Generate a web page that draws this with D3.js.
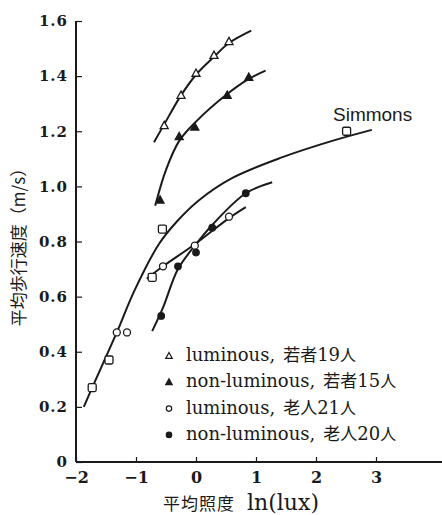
<!DOCTYPE html>
<html>
<head>
<meta charset="utf-8">
<script src="https://cdn.jsdelivr.net/npm/d3@7"></script>
<style>
  html, body { margin: 0; padding: 0; background: #fff; }
  svg { display: block; }
</style>
</head>
<body>
<svg id="chart" width="442" height="515"></svg>
<script>
// Walking speed vs. mean illuminance
const xTicks = [-2, -1, 0, 1, 2, 3];
const yTicks = [0, 0.2, 0.4, 0.6, 0.8, 1.0, 1.2, 1.4, 1.6];
const yTickLabels = ["0", "0.2", "0.4", "0.6", "0.8", "1.0", "1.2", "1.4", "1.6"];

// measured points [ln(lux), m/s]
const youngLum    = [[-0.53, 1.22], [-0.25, 1.33], [0.0, 1.41], [0.3, 1.475], [0.55, 1.525]];
const youngNonLum = [[-0.6, 0.95], [-0.28, 1.18], [-0.02, 1.215], [0.52, 1.33], [0.88, 1.395]];
const oldLum      = [[-1.32, 0.47], [-1.15, 0.47], [-0.55, 0.71], [-0.02, 0.785], [0.55, 0.89]];
const oldNonLum   = [[-0.58, 0.53], [-0.3, 0.71], [0.0, 0.76], [0.27, 0.85], [0.83, 0.975]];
const simmons     = [[-1.73, 0.27], [-1.45, 0.37], [-0.73, 0.67], [-0.56, 0.845], [2.51, 1.2]];

// fitted curves [ln(lux), m/s]
const youngLumFit    = [[-0.7, 1.16], [-0.53, 1.225], [-0.25, 1.33], [0.0, 1.405], [0.3, 1.47], [0.55, 1.52], [0.92, 1.565]];
const youngNonLumFit = [[-0.68, 0.93], [-0.5, 1.06], [-0.28, 1.165], [0.0, 1.235], [0.52, 1.335], [0.88, 1.39], [1.16, 1.42]];
const oldLumFit      = [[-0.82, 0.665], [-0.55, 0.71], [-0.02, 0.79], [0.55, 0.885], [0.83, 0.925]];
const oldNonLumFit   = [[-0.73, 0.475], [-0.55, 0.56], [-0.3, 0.7], [0.0, 0.79], [0.27, 0.86], [0.83, 0.975], [1.27, 1.015]];
const simmonsFit     = [[-1.87, 0.2], [-1.73, 0.27], [-1.32, 0.47], [-1.03, 0.62], [-0.62, 0.79], [-0.33, 0.87],
                        [0.05, 0.95], [0.6, 1.03], [1.43, 1.105], [2.27, 1.165], [2.93, 1.205]];

const legendItems = [
  { shape: "triUp", fill: false, text: "luminous,", group: "若者", count: "19" },
  { shape: "triUp", fill: true,  text: "non-luminous,", group: "若者", count: "15" },
  { shape: "circle", fill: false, text: "luminous,", group: "老人", count: "21" },
  { shape: "circle", fill: true,  text: "non-luminous,", group: "老人", count: "20" }
];

const svg = d3.select("#chart");
const ink = "#1a1a1a";
const serif = "'DejaVu Serif', 'Liberation Serif', serif";
const cjkFont = "'Noto Sans CJK JP', sans-serif";

const x = d3.scaleLinear().domain([-2, 3]).range([76, 376]);
const y = d3.scaleLinear().domain([0, 1.6]).range([462, 21]);

// axes
const xAxis = d3.axisBottom(x).tickValues(xTicks).tickSize(-5).tickFormat(d => d < 0 ? "\u2212" + Math.abs(d) : d);
const gx = svg.append("g").attr("transform", `translate(0,${y(0)})`).call(xAxis);
gx.select(".domain").remove();
gx.append("line").attr("x1", x(-2)).attr("x2", 442).attr("y1", 0).attr("y2", 0)
  .attr("stroke", ink).attr("stroke-width", 2);
gx.selectAll(".tick line").attr("stroke", ink).attr("stroke-width", 1.2);
gx.selectAll(".tick text").attr("fill", ink).attr("font-family", serif).attr("font-size", 16)
  .attr("font-weight", "bold").attr("dy", "0.85em").attr("y", 7);

const yAxis = d3.axisLeft(y).tickValues(yTicks).tickSize(-6).tickFormat((d, i) => yTickLabels[i]);
const gy = svg.append("g").attr("transform", `translate(${x(-2)},0)`).call(yAxis);
gy.select(".domain").remove();
gy.append("line").attr("x1", 0).attr("x2", 0).attr("y1", y(1.6)).attr("y2", y(0))
  .attr("stroke", ink).attr("stroke-width", 2);
gy.selectAll(".tick line").attr("stroke", ink).attr("stroke-width", 1.2);
gy.selectAll(".tick text").attr("fill", ink).attr("font-family", serif).attr("font-size", 15)
  .attr("font-weight", "bold").attr("letter-spacing", 1).attr("x", -8);

// axis titles
svg.append("text")
  .attr("transform", `translate(25,243) rotate(-90)`)
  .attr("text-anchor", "middle").attr("fill", ink)
  .attr("font-family", cjkFont).attr("font-size", 17)
  .text("平均歩行速度（m/s）");

const xt = svg.append("text").attr("x", 163).attr("y", 510).attr("fill", ink);
xt.append("tspan").attr("font-family", cjkFont).attr("font-size", 17).attr("letter-spacing", 1).text("平均照度");
xt.append("tspan").attr("dx", 12).attr("font-family", serif).attr("font-size", 22).text("ln(lux)");

// fitted curves
const line = d3.line().x(d => x(d[0])).y(d => y(d[1])).curve(d3.curveCatmullRom.alpha(0.5));
[youngLumFit, youngNonLumFit, oldLumFit, oldNonLumFit, simmonsFit].forEach(fit => {
  svg.append("path").datum(fit).attr("d", line)
    .attr("fill", "none").attr("stroke", ink).attr("stroke-width", 2);
});

// markers
function triPath(s) {
  const h = s * 0.9;
  return `M0,${-h * 0.6}L${s / 2},${h * 0.4}L${-s / 2},${h * 0.4}Z`;
}
function drawMarkers(data, shape, filled, size) {
  const g = svg.append("g");
  data.forEach(d => {
    const cx = x(d[0]), cy = y(d[1]);
    let m;
    if (shape === "triUp") {
      m = g.append("path").attr("d", triPath(size)).attr("transform", `translate(${cx},${cy})`);
    } else if (shape === "square") {
      m = g.append("rect").attr("x", cx - size / 2).attr("y", cy - size / 2)
        .attr("width", size).attr("height", size).attr("rx", 1.5);
    } else {
      m = g.append("circle").attr("cx", cx).attr("cy", cy).attr("r", size / 2);
    }
    m.attr("fill", filled ? ink : "#fff").attr("stroke", ink).attr("stroke-width", 1.3);
  });
}
drawMarkers(simmons, "square", false, 8);
drawMarkers(youngLum, "triUp", false, 8);
drawMarkers(youngNonLum, "triUp", true, 8);
drawMarkers(oldLum, "circle", false, 7);
drawMarkers(oldNonLum, "circle", true, 6.5);

// series label
svg.append("text").attr("x", 333).attr("y", 121).attr("fill", ink)
  .attr("font-family", "'Liberation Sans', Arial, sans-serif").attr("font-size", 19).text("Simmons");

// legend
const lg = svg.append("g");
legendItems.forEach((it, i) => {
  const ly = 361 + i * 26.3;
  const sx = 169;
  if (it.shape === "triUp") {
    lg.append("path").attr("d", triPath(6.5)).attr("transform", `translate(${sx},${ly - 5})`)
      .attr("fill", it.fill ? ink : "#fff").attr("stroke", ink).attr("stroke-width", 1.2);
  } else {
    lg.append("circle").attr("cx", sx).attr("cy", ly - 5).attr("r", 2.7)
      .attr("fill", it.fill ? ink : "#fff").attr("stroke", ink).attr("stroke-width", 1.2);
  }
  const t = lg.append("text").attr("x", 186).attr("y", ly).attr("fill", ink);
  t.append("tspan").attr("font-family", serif).attr("font-size", 18).text(it.text);
  t.append("tspan").attr("dx", 8).attr("font-family", cjkFont).attr("font-size", 17).text(it.group);
  t.append("tspan").attr("font-family", serif).attr("font-size", 18).text(it.count);
  t.append("tspan").attr("font-family", cjkFont).attr("font-size", 16).text("人");
});
</script>
</body>
</html>
